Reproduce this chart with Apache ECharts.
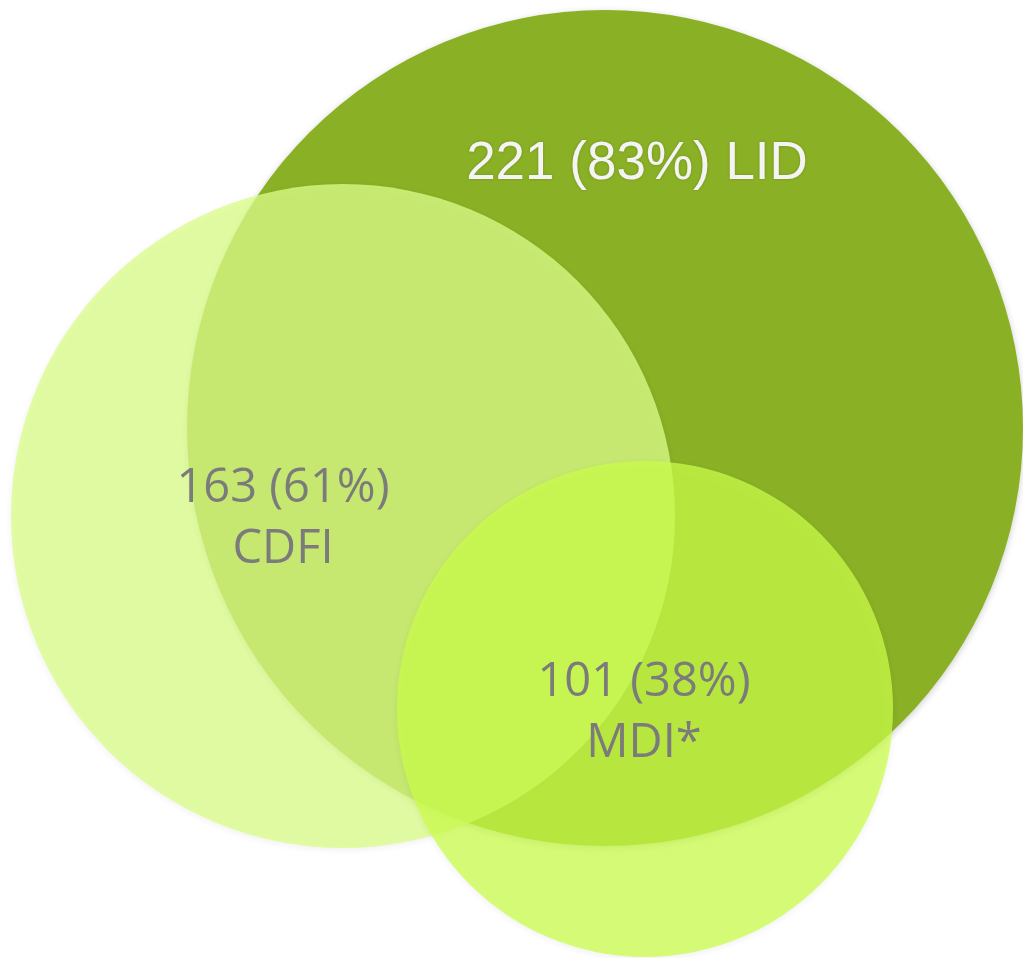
<!DOCTYPE html>
<html>
<head>
<meta charset="utf-8">
<title>LID / CDFI / MDI overlap</title>
<script src="https://cdn.jsdelivr.net/npm/echarts@6/dist/echarts.min.js"></script>
<style>
  html, body { margin: 0; padding: 0; background: #fff; }
  #chart { width: 1023px; height: 958px; }
</style>
</head>
<body>
<div id="chart"></div>
<script>
  // ===== data =====
  const setNames    = ["LID", "CDFI", "MDI*"];
  const setCounts   = [221, 163, 101];
  const setPercents = [83, 61, 38];
  // circle geometry in plot units (x: 0..1023, y: 0..958 downwards)
  const circleX = [605, 343, 645];
  const circleY = [428, 516, 709];
  const circleR = [418, 332, 248];
  // label anchor (centre of text block), plot units
  const labelX = [637, 283, 644];
  const labelY = [164, 519, 713];

  // ===== styles =====
  const fills = ["rgb(138,176,37)", "rgba(218,252,136,0.77)", "rgba(203,253,74,0.74)"];
  const shadowAlpha = [0.2, 0.08, 0.08];
  const labelColors = ["#f4f4f4", "#7b7b7b", "#7b7b7b"];
  const labelFonts = [
    '53px "Liberation Sans", Arial, sans-serif',
    '47px "Open Sans", sans-serif',
    '47px "Open Sans", sans-serif',
  ];

  const circleData = setNames.map((n, i) => [circleX[i], circleY[i], circleR[i], i]);
  const labelData = setNames.map((n, i) => [labelX[i], labelY[i], i]);

  function labelText(i) {
    const head = `${setCounts[i]} (${setPercents[i]}%)`;
    return i === 0 ? `${head} ${setNames[i]}` : `${head}\n${setNames[i]}`;
  }

  const chart = echarts.init(document.getElementById("chart"), null, { renderer: "canvas" });
  chart.setOption({
    animation: false,
    grid: { left: 0, right: 0, top: 0, bottom: 0 },
    xAxis: { type: "value", min: 0, max: 1023, show: false },
    yAxis: { type: "value", min: 0, max: 958, inverse: true, show: false },
    series: [
      {
        type: "custom",
        data: circleData,
        renderItem: (params, api) => {
          const c = api.coord([api.value(0), api.value(1)]);
          const r = api.size([api.value(2), 0])[0];
          const i = api.value(3);
          return {
            type: "circle",
            shape: { cx: c[0], cy: c[1], r: r },
            style: {
              fill: fills[i],
              shadowBlur: 7,
              shadowColor: `rgba(0,0,0,${shadowAlpha[i]})`,
              shadowOffsetY: 2,
            },
          };
        },
      },
      {
        type: "custom",
        data: labelData,
        renderItem: (params, api) => {
          const p = api.coord([api.value(0), api.value(1)]);
          const i = api.value(2);
          return {
            type: "text",
            x: p[0],
            y: p[1],
            style: {
              text: labelText(i),
              fill: labelColors[i],
              font: labelFonts[i],
              align: "center",
              verticalAlign: "middle",
              lineHeight: 61,
              textShadowBlur: i === 0 ? 3 : 0,
              textShadowColor: "rgba(0,0,0,0.18)",
            },
          };
        },
      },
    ],
  });
</script>
</body>
</html>
